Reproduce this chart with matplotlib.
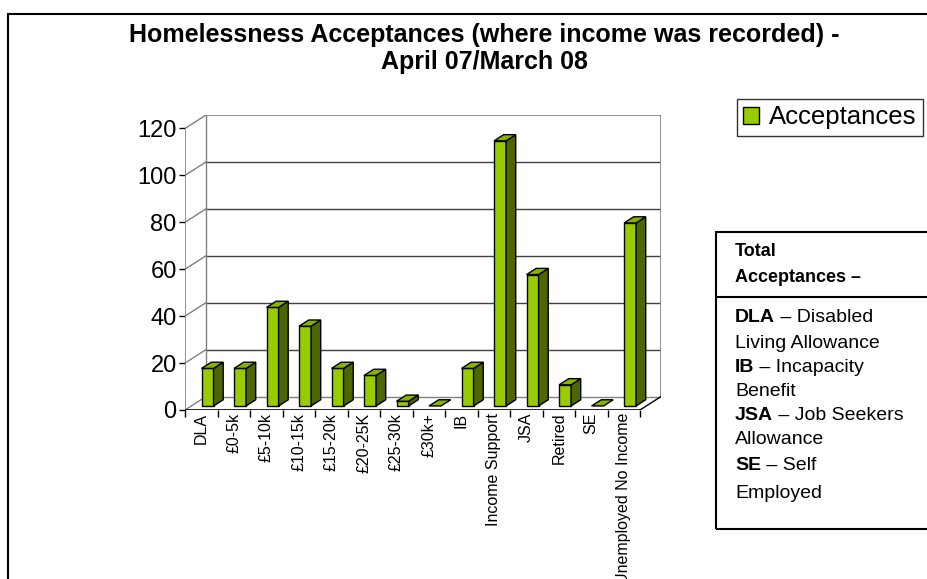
import matplotlib
matplotlib.use("Agg")
import matplotlib.pyplot as plt
from matplotlib.patches import Polygon, Rectangle, Patch

plt.rcParams["font.family"] = ["Liberation Sans", "DejaVu Sans"]

CATEGORIES = ["DLA", "£0-5k", "£5-10k", "£10-15k", "£15-20k", "£20-25K", "£25-30k",
              "£30k+", "IB", "Income Support", "JSA", "Retired", "SE",
              "Unemployed No Income"]
ACCEPTANCES = [16, 16, 42, 34, 16, 13, 2, 0, 16, 113, 56, 9, 0, 78]
Y_TICKS = [0, 20, 40, 60, 80, 100, 120]
TITLE = ["Homelessness Acceptances (where income was recorded) -", "April 07/March 08"]
SERIES = "Acceptances"
NOTE_HEAD = ["Total", "Acceptances –"]
NOTE_LINES = [("DLA", " – Disabled"), ("", "Living Allowance"), ("IB", " – Incapacity"),
              ("", "Benefit"), ("JSA", " – Job Seekers"), ("", "Allowance"),
              ("SE", " – Self"), ("", "Employed")]

FRONT = "#99CC00"
SIDE = "#4D6600"
TOP = "#86B300"
WALL = "#808080"
GRID = "#404040"

W, H = 927, 579
fig = plt.figure(figsize=(W / 100, H / 100), dpi=100)

# pseudo-3d depth, in data units (x: categories, y: values)
DX, DY = 0.646, 5.74
n = len(CATEGORIES)
ymax = Y_TICKS[-1]

ax = fig.add_axes([185 / W, (H - 410) / H, (661 - 185) / W, 295 / H])
ax.set_xlim(-0.5, n - 0.5 + DX)
ax.set_ylim(0, ymax + DY)
for s in ax.spines.values():
    s.set_visible(False)

# walls
x0, x1 = -0.5, n - 0.5
for v in Y_TICKS:
    ax.plot([x0, x0 + DX], [v, v + DY], color=WALL, lw=1)
    if 0 < v < ymax:
        ax.plot([x0 + DX, x1 + DX], [v + DY, v + DY], color=GRID, lw=1)
ax.plot([x0 + DX, x1 + DX], [DY, DY], color=WALL, lw=1)
ax.plot([x0 + DX, x1 + DX], [ymax + DY, ymax + DY], color=WALL, lw=1.2)
ax.plot([x0 + DX, x0 + DX], [DY, ymax + DY], color=WALL, lw=1)
ax.plot([x1 + DX, x1 + DX], [DY, ymax + DY], color=WALL, lw=1.2)
ax.plot([x1, x1 + DX], [0, DY], color="black", lw=1)
ax.plot([x0, x0], [0, ymax], color=WALL, lw=1.2)
ax.plot([x0, x1], [0, 0], color="black", lw=1.2)

# bars
bw, f0, f1 = 0.37, 0.3, 0.76
dd = f1 - f0
for i, v in enumerate(ACCEPTANCES):
    xl = i - bw / 2 + f0 * DX
    xr = xl + bw
    b = f0 * DY
    t = b + v
    ex, ey = dd * DX, dd * DY
    if v > 0:
        ax.add_patch(Polygon([(xl, b), (xr, b), (xr, t), (xl, t)], closed=True,
                             facecolor=FRONT, edgecolor="black", lw=1, zorder=3))
        ax.add_patch(Polygon([(xr, b), (xr + ex, b + ey), (xr + ex, t + ey), (xr, t)],
                             closed=True, facecolor=SIDE, edgecolor="black", lw=1, zorder=3))
    ax.add_patch(Polygon([(xl, t), (xr, t), (xr + ex, t + ey), (xl + ex, t + ey)],
                         closed=True, facecolor=TOP, edgecolor="black", lw=1, zorder=3))

ax.set_yticks(Y_TICKS)
ax.set_yticklabels([str(v) for v in Y_TICKS], fontsize=17)
ax.tick_params(axis="y", length=4, width=1, color="black", pad=2)
ax.set_xticks(range(n))
ax.set_xticklabels(CATEGORIES, rotation=90, fontsize=11.5, va="top")
ax.set_xticks([i - 0.5 for i in range(n + 1)], minor=True)
ax.tick_params(axis="x", which="major", length=0, pad=2)
ax.tick_params(axis="x", which="minor", length=5, width=1, color="black")

# outer frame
fig.patches.append(Rectangle((8 / W, -0.1), 1.0, 1.1 - 14 / H, transform=fig.transFigure,
                             fill=False, edgecolor="black", lw=1.5))

for k, line in enumerate(TITLE):
    fig.text(484 / W, 1 - (35 + 27 * k) / H, line, ha="center", va="center",
             fontsize=18, fontweight="bold")

# legend
leg = fig.legend(handles=[Patch(facecolor=FRONT, edgecolor="black", label=SERIES)],
                 loc="upper right", bbox_to_anchor=(923 / W, 1 - 99 / H), fontsize=18.5,
                 frameon=True, fancybox=False, handlelength=0.6, handleheight=0.6,
                 handletextpad=0.4, borderpad=0.25, borderaxespad=0)
leg.get_frame().set_edgecolor("black")
leg.get_frame().set_linewidth(1)

# notes box
fig.patches.append(Rectangle((716 / W, 1 - 529 / H), 1.0, (529 - 232) / H,
                             transform=fig.transFigure, fill=False, edgecolor="black", lw=1.5))
fig.lines.append(plt.Line2D([716 / W, 1.0], [1 - 297 / H, 1 - 297 / H],
                            transform=fig.transFigure, color="black", lw=1.5))
tx = 735 / W
for k, line in enumerate(NOTE_HEAD):
    fig.text(tx, 1 - (252 + 25 * k) / H, line, fontsize=13, fontweight="bold",
             va="center", ha="left")

note_y = [318, 343, 367, 391, 416, 440, 465, 494]
fig.canvas.draw()
renderer = fig.canvas.get_renderer()
for (bold, rest), yy in zip(NOTE_LINES, note_y):
    x = tx
    if bold:
        tb = fig.text(x, 1 - yy / H, bold, fontsize=14, fontweight="bold", va="center")
        bb = tb.get_window_extent(renderer)
        x = bb.x1 / W
    fig.text(x, 1 - yy / H, rest, fontsize=14, va="center")

fig.savefig("out.png", dpi=100)
